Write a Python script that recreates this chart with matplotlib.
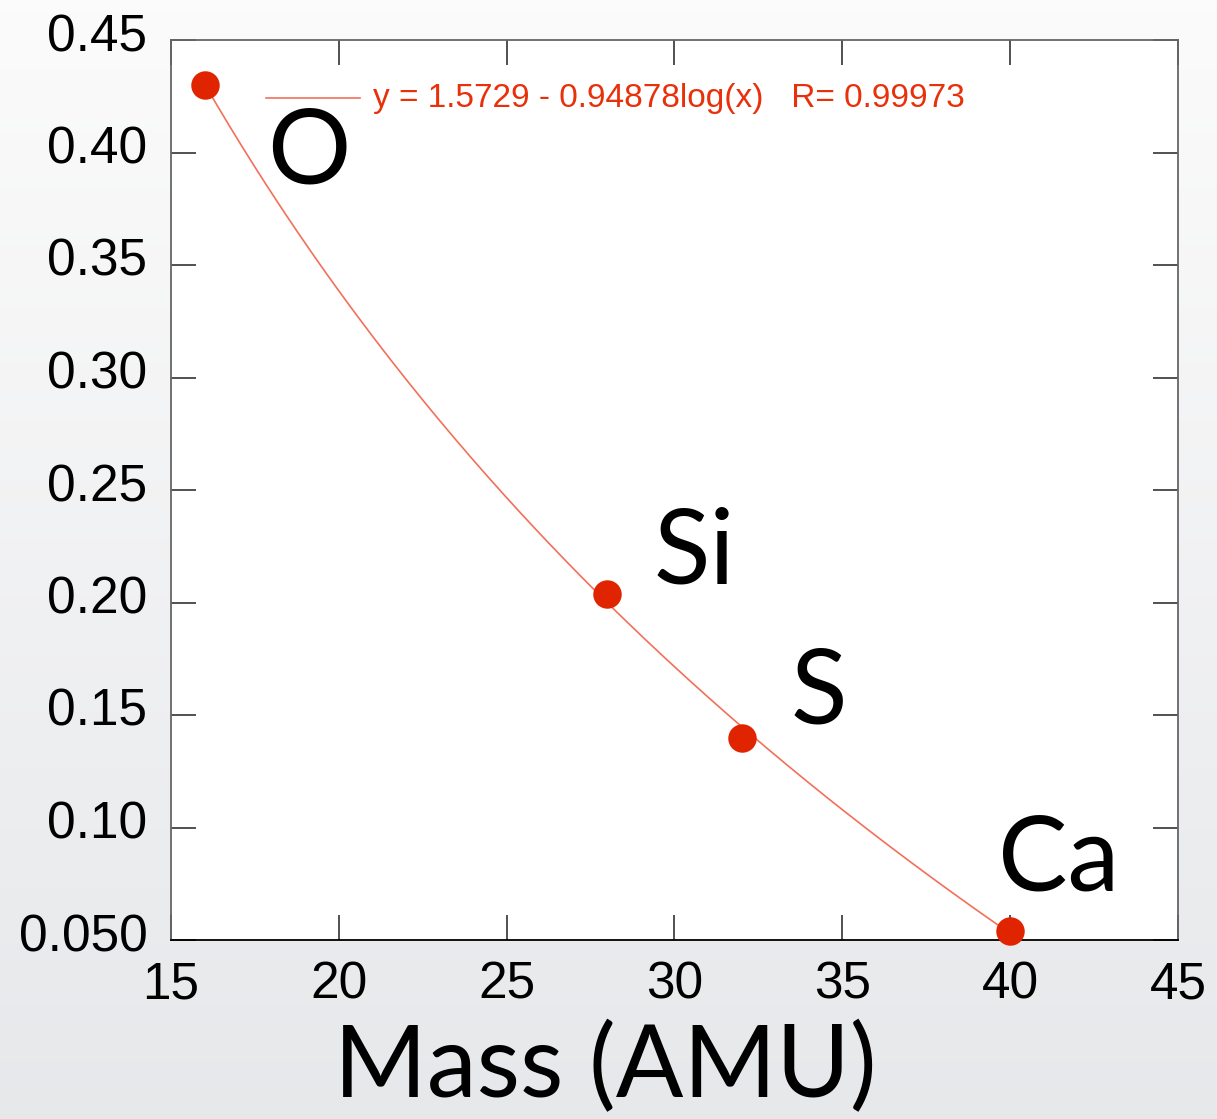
import numpy as np
import matplotlib
matplotlib.use("Agg")
import matplotlib.pyplot as plt
from matplotlib.transforms import ScaledTranslation

# Measured points: atomic mass vs. value
elements = ["O", "Si", "S", "Ca"]
mass = [16, 28, 32, 40]
value = [0.430, 0.204, 0.140, 0.054]

# Logarithmic fit parameters (y = a - b*log10(x)) and correlation
fit_a = 1.5729
fit_b = 0.94878
fit_r = 0.99973

x_ticks = [15, 20, 25, 30, 35, 40, 45]
y_ticks = [0.05, 0.10, 0.15, 0.20, 0.25, 0.30, 0.35, 0.40, 0.45]
y_tick_labels = ["0.050", "0.10", "0.15", "0.20", "0.25", "0.30", "0.35", "0.40", "0.45"]

W, H = 1217, 1119
fig = plt.figure(figsize=(W / 100, H / 100), dpi=100)

# soft grey slide-style background
bg = fig.add_axes([0, 0, 1, 1], zorder=-10)
grad = np.linspace(0, 1, 256).reshape(-1, 1)
top = np.array([0.985, 0.985, 0.985])
bot = np.array([0.905, 0.91, 0.92])
img = top + (bot - top) * grad[:, :, None]
bg.imshow(img, aspect="auto", extent=[0, 1, 0, 1])
bg.set_axis_off()

ax = fig.add_axes([171 / W, 1 - 940 / H, (1178 - 171) / W, (940 - 40) / H])
ax.set_facecolor("white")

xs = np.linspace(min(mass), max(mass), 200)
ax.plot(xs, fit_a - fit_b * np.log10(xs), color="#f2705a", lw=1.2, zorder=2)
ax.scatter(mass, value, s=420, color="#e02400", zorder=3, clip_on=False, linewidths=0)

ax.set_xlim(15, 45)
ax.set_ylim(0.05, 0.45)
ax.set_xticks(x_ticks)
ax.set_yticks(y_ticks)
ax.set_yticklabels(y_tick_labels)
ax.tick_params(direction="in", length=18, width=1.2, top=True, right=True,
               labelsize=37, colors="#333333", labelcolor="black")
ax.tick_params(axis="y", pad=17)
ax.tick_params(axis="x", pad=15)
for lbl in ax.get_xticklabels() + ax.get_yticklabels():
    lbl.set_family(["Liberation Sans", "DejaVu Sans"])
# nudge the y labels up slightly
lift = ScaledTranslation(0, 8 / 100, fig.dpi_scale_trans)
for lbl in ax.get_yticklabels():
    lbl.set_transform(lbl.get_transform() + lift)
for sp in ax.spines.values():
    sp.set_color("#666666")
    sp.set_linewidth(1.3)
ax.spines["bottom"].set_color("black")

# fit legend line and equation
ax.plot([17.83, 20.63], [0.4242, 0.4242], color="#f2705a", lw=1.2,
        clip_on=False, zorder=4)
ax.text(21.02, 0.4242,
        f"y = {fit_a} - {fit_b}log(x)   R= {fit_r}",
        color="#e8300a", fontsize=24, va="center", ha="left",
        family=["Liberation Sans", "DejaVu Sans"])

# element labels
label_font = ["Lato", "DejaVu Sans"]
offsets = {"O": (19.1, 0.386), "Si": (30.6, 0.2085), "S": (34.3, 0.146), "Ca": (41.45, 0.0722)}
for el in elements:
    x, y = offsets[el]
    ax.text(x, y, el, fontsize=75, ha="center", va="baseline", family=label_font,
            color="black")

fig.text(605 / W, 1 - 1097 / H, "Mass (AMU)", fontsize=72, ha="center",
         va="baseline", family=label_font, color="black")

fig.savefig("out.png", dpi=100)
